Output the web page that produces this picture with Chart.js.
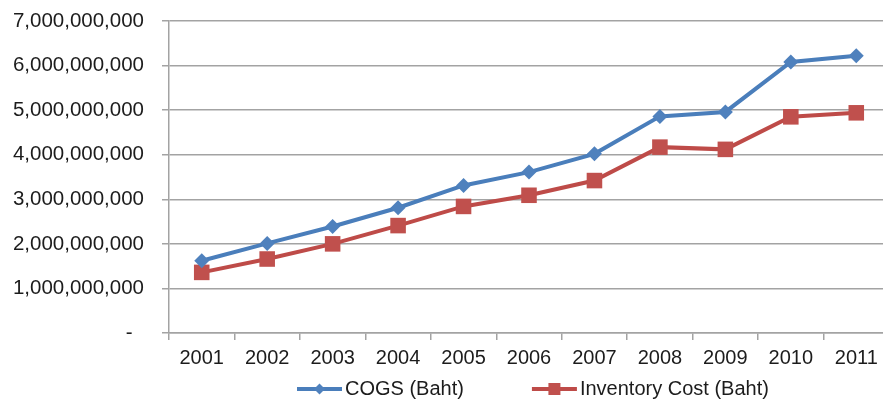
<!DOCTYPE html>
<html>
<head>
<meta charset="utf-8">
<script src="https://cdn.jsdelivr.net/npm/chart.js@4/dist/chart.umd.min.js"></script>
<style>
  html, body { margin: 0; padding: 0; background: #ffffff; overflow: hidden; }
  #wrap { width: 900px; height: 403px; }
</style>
</head>
<body>
<div id="wrap"><canvas id="chart" width="900" height="403"></canvas></div>
<script>
// Yearly figures in Baht
const years = ['2001', '2002', '2003', '2004', '2005', '2006', '2007', '2008', '2009', '2010', '2011'];
const cogsBaht = [1620000000, 2010000000, 2390000000, 2810000000, 3310000000, 3610000000,
                  4020000000, 4860000000, 4960000000, 6080000000, 6220000000];
const inventoryCostBaht = [1360000000, 1660000000, 2000000000, 2410000000, 2840000000, 3090000000,
                           3420000000, 4170000000, 4120000000, 4850000000, 4940000000];
const seriesNames = ['COGS (Baht)', 'Inventory Cost (Baht)'];
const yMax = 7000000000;
const yStep = 1000000000;

const FONT = '"Liberation Sans", Arial, sans-serif';
const TEXT = '#1c1c1c';
const GRID = '#a3a3a3';

// Legend drawn as a line sample with the series marker in its middle
const lineLegend = {
  id: 'lineLegend',
  afterDraw(chart, args, opts) {
    const ctx = chart.ctx;
    ctx.save();
    ctx.font = '20px ' + FONT;
    ctx.textBaseline = 'middle';
    ctx.textAlign = 'left';
    let x = opts.left;
    const y = opts.y;
    chart.data.datasets.forEach(ds => {
      ctx.strokeStyle = ds.borderColor;
      ctx.lineWidth = 4;
      ctx.beginPath();
      ctx.moveTo(x, y);
      ctx.lineTo(x + opts.sample, y);
      ctx.stroke();
      const cx = x + opts.sample / 2;
      ctx.fillStyle = ds.pointBackgroundColor;
      ctx.beginPath();
      if (ds.pointStyle === 'rectRot') {
        const r = 5.5;
        ctx.moveTo(cx, y - r); ctx.lineTo(cx + r, y); ctx.lineTo(cx, y + r); ctx.lineTo(cx - r, y);
        ctx.closePath();
      } else {
        const h = 6;
        ctx.rect(cx - h, y - h, 2 * h, 2 * h);
      }
      ctx.fill();
      const tx = x + opts.sample + opts.gap;
      ctx.fillStyle = TEXT;
      ctx.fillText(ds.label, tx, y);
      x = tx + ctx.measureText(ds.label).width + opts.itemGap;
    });
    ctx.restore();
  }
};

new Chart(document.getElementById('chart'), {
  type: 'line',
  data: {
    labels: years,
    datasets: [
      {
        label: seriesNames[0],
        data: cogsBaht,
        borderColor: '#4A7EBB',
        backgroundColor: '#4F81BD',
        pointBackgroundColor: '#4F81BD',
        pointBorderColor: '#4F81BD',
        pointStyle: 'rectRot',
        pointRadius: 7.5,
        pointBorderWidth: 0,
        borderWidth: 4,
        tension: 0
      },
      {
        label: seriesNames[1],
        data: inventoryCostBaht,
        borderColor: '#BE4B48',
        backgroundColor: '#C0504D',
        pointBackgroundColor: '#C0504D',
        pointBorderColor: '#C0504D',
        pointStyle: 'rect',
        pointRadius: 11,
        pointBorderWidth: 0,
        borderWidth: 4,
        tension: 0
      }
    ]
  },
  options: {
    responsive: false,
    animation: false,
    devicePixelRatio: 1,
    layout: { padding: { top: 21, right: 7, bottom: 27, left: 0 } },
    plugins: {
      legend: { display: false },
      tooltip: { enabled: false },
      lineLegend: { left: 297, y: 389, sample: 45, gap: 3, itemGap: 68 }
    },
    scales: {
      x: {
        offset: true,
        grid: {
          display: true,
          offset: true,
          drawOnChartArea: false,
          drawTicks: true,
          tickLength: 7,
          color: GRID,
          lineWidth: 1.5
        },
        border: { display: true, color: GRID, width: 1.5 },
        ticks: {
          color: TEXT,
          font: { family: FONT, size: 20 },
          padding: 6,
          maxRotation: 0,
          autoSkip: false
        }
      },
      y: {
        min: 0,
        max: yMax,
        afterFit(scale) {
          scale.width = 169;
          scale.paddingTop = 0;
          scale.paddingBottom = 0;
        },
        grid: {
          color: GRID,
          lineWidth: 1.5,
          drawTicks: true,
          tickLength: 7
        },
        border: { display: true, color: GRID, width: 1.5 },
        ticks: {
          stepSize: yStep,
          color: TEXT,
          font: { family: FONT, size: 20.5 },
          padding: 18,
          callback: v => v === 0 ? '-  ' : Number(v).toLocaleString('en-US')
        }
      }
    }
  },
  plugins: [lineLegend]
});
</script>
</body>
</html>
